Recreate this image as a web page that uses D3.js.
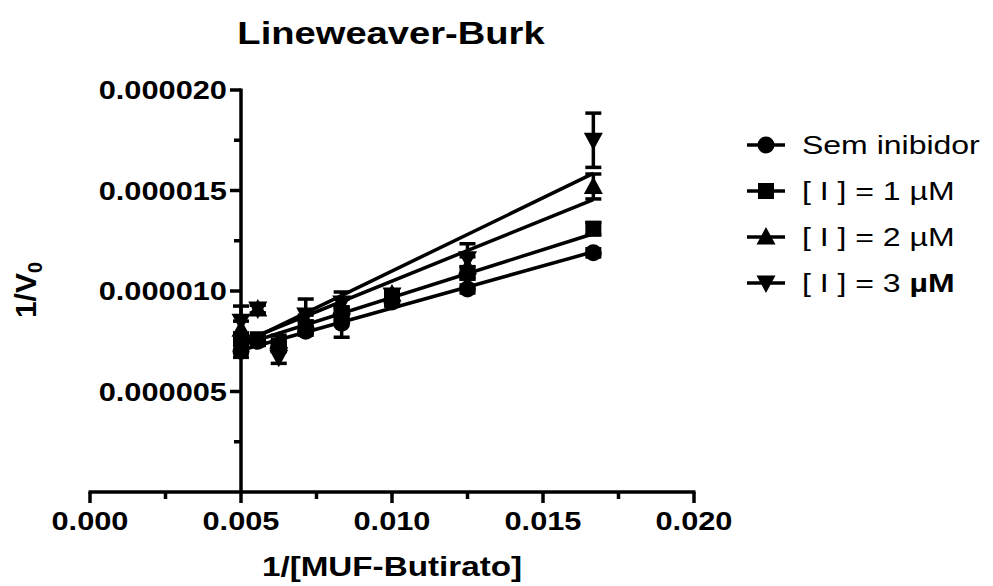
<!DOCTYPE html>
<html><head><meta charset="utf-8">
<script src="https://cdn.jsdelivr.net/npm/d3@7"></script>
<style>html,body{margin:0;padding:0;background:#fff;}svg{display:block;}</style>
</head><body>
<svg id="chart" width="993" height="586"></svg>
<script>
// ---- data ----
const xValues = [0.005, 0.005556, 0.00625, 0.007143, 0.008333, 0.01, 0.0125, 0.016667];
const seriesNames = ["Sem inibidor", "[ I ] = 1 µM", "[ I ] = 2 µM", "[ I ] = 3 µM"];
const semInibidor = [7.0e-6, 7.5e-6, 7.2e-6, 8.0e-6, 8.4e-6, 9.45e-6, 10.1e-6, 11.9e-6];
const semInibidorErr = [0.3e-6, 0.2e-6, 0.2e-6, 0.2e-6, 0.7e-6, 0.2e-6, 0.2e-6, 0.2e-6];
const inib1 = [7.6e-6, 7.6e-6, 7.3e-6, 8.2e-6, 8.9e-6, 9.7e-6, 10.9e-6, 13.1e-6];
const inib1Err = [0.3e-6, 0.2e-6, 0.2e-6, 0.3e-6, 0.3e-6, 0.3e-6, 0.3e-6, 0.3e-6];
const inib2 = [8.1e-6, 9.1e-6, 7.5e-6, 8.5e-6, 9.2e-6, 9.85e-6, 11.2e-6, 15.2e-6];
const inib2Err = [0.4e-6, 0.2e-6, 0.3e-6, 0.3e-6, 0.4e-6, 0.2e-6, 0.5e-6, 0.62e-6];
const inib3 = [8.5e-6, 9.1e-6, 6.7e-6, 8.8e-6, 9.4e-6, 9.8e-6, 11.6e-6, 17.5e-6];
const inib3Err = [0.75e-6, 0.2e-6, 0.3e-6, 0.8e-6, 0.55e-6, 0.2e-6, 0.75e-6, 1.35e-6];
// regression line values at first and last x
const fitStart = [7.05e-6, 7.3e-6, 7.45e-6, 7.35e-6];
const fitEnd = [11.95e-6, 12.85e-6, 14.55e-6, 15.85e-6];
const xTicks = [0, 0.005, 0.010, 0.015, 0.020];
const xMinorTicks = [0.0025, 0.0075, 0.0125, 0.0175];
const yTicks = [0.000005, 0.000010, 0.000015, 0.000020];
const yMinorTicks = [0.0000025, 0.0000075, 0.0000125, 0.0000175];
const markerTypes = ["circle", "square", "triangleUp", "triangleDown"];

const seriesVals = [semInibidor, inib1, inib2, inib3];
const seriesErrs = [semInibidorErr, inib1Err, inib2Err, inib3Err];

const STRETCH = 1.23;
const svg = d3.select("#chart");
const x = d3.scaleLinear().domain([0, 0.02]).range([90, 694]);
const y = d3.scaleLinear().domain([0, 0.00002]).range([492, 90]);
const FONT = "'Liberation Sans', Arial, sans-serif";

function stretch(sel) {
  sel.each(function() {
    const len = this.getComputedTextLength();
    d3.select(this).attr("textLength", len * STRETCH).attr("lengthAdjust", "spacingAndGlyphs");
  });
  return sel;
}

function markerPath(type) {
  if (type === "circle") return "M8.5,0A8.5,8.5 0 1,1 -8.5,0A8.5,8.5 0 1,1 8.5,0Z";
  if (type === "square") return "M-8,-8H8V8H-8Z";
  if (type === "triangleUp") return "M0,-10L9.5,7.5L-9.5,7.5Z";
  return "M0,10L9.5,-7.5L-9.5,-7.5Z";
}

// title
stretch(svg.append("text").attr("x", 391).attr("y", 44).attr("text-anchor", "middle")
  .attr("font-family", FONT).attr("font-weight", "bold").attr("font-size", 31)
  .text("Lineweaver-Burk"));

// axes
const ax = svg.append("g").attr("stroke", "#000").attr("stroke-width", 3.5).attr("fill", "none");
ax.append("line").attr("x1", x(0) - 1.5).attr("x2", x(0.02) + 1.5).attr("y1", y(0)).attr("y2", y(0));
ax.append("line").attr("x1", x(0.005)).attr("x2", x(0.005)).attr("y1", y(0.00002) - 1.5).attr("y2", y(0));
xTicks.forEach(t => ax.append("line").attr("x1", x(t)).attr("x2", x(t)).attr("y1", y(0)).attr("y2", y(0) + 11));
xMinorTicks.forEach(t => ax.append("line").attr("x1", x(t)).attr("x2", x(t)).attr("y1", y(0)).attr("y2", y(0) + 7));
yTicks.forEach(t => ax.append("line").attr("y1", y(t)).attr("y2", y(t)).attr("x1", x(0.005)).attr("x2", x(0.005) - 11));
yMinorTicks.forEach(t => ax.append("line").attr("y1", y(t)).attr("y2", y(t)).attr("x1", x(0.005)).attr("x2", x(0.005) - 7));

const xFmt = d3.format(".3f"), yFmt = d3.format(".6f");
xTicks.forEach(t => stretch(svg.append("text").attr("x", x(t)).attr("y", y(0) + 38)
  .attr("text-anchor", "middle").attr("font-family", FONT).attr("font-weight", "bold")
  .attr("font-size", 25).text(xFmt(t))));
yTicks.forEach(t => stretch(svg.append("text").attr("x", x(0.005) - 14).attr("y", y(t) + 9)
  .attr("text-anchor", "end").attr("font-family", FONT).attr("font-weight", "bold")
  .attr("font-size", 25).text(yFmt(t))));

stretch(svg.append("text").attr("x", 392).attr("y", 576).attr("text-anchor", "middle")
  .attr("font-family", FONT).attr("font-weight", "bold").attr("font-size", 27)
  .text("1/[MUF-Butirato]"));

const yl = svg.append("text").attr("transform", "translate(36,290) rotate(-90)")
  .attr("text-anchor", "middle").attr("font-family", FONT).attr("font-weight", "bold").attr("font-size", 30);
yl.append("tspan").text("1/V");
yl.append("tspan").attr("font-size", 20).attr("dy", 6).text("0");

// fit lines
const plot = svg.append("g");
seriesVals.forEach((vals, i) => {
  plot.append("line").attr("x1", x(xValues[0])).attr("x2", x(xValues[xValues.length - 1]))
    .attr("y1", y(fitStart[i])).attr("y2", y(fitEnd[i]))
    .attr("stroke", "#000").attr("stroke-width", 3.5);
});
// error bars
seriesVals.forEach((vals, i) => {
  vals.forEach((v, j) => {
    const e = seriesErrs[i][j];
    const cx = x(xValues[j]);
    const g = plot.append("g").attr("stroke", "#000").attr("stroke-width", 3.5);
    g.append("line").attr("x1", cx).attr("x2", cx).attr("y1", y(v - e)).attr("y2", y(v + e));
    g.append("line").attr("x1", cx - 8).attr("x2", cx + 8).attr("y1", y(v + e)).attr("y2", y(v + e));
    g.append("line").attr("x1", cx - 8).attr("x2", cx + 8).attr("y1", y(v - e)).attr("y2", y(v - e));
  });
});
// markers
seriesVals.forEach((vals, i) => {
  plot.selectAll(null).data(vals).enter().append("path")
    .attr("transform", (v, j) => `translate(${x(xValues[j])},${y(v)})`)
    .attr("d", markerPath(markerTypes[i])).attr("fill", "#000");
});

// legend
const legY = [145, 191, 237, 283];
seriesNames.forEach((name, i) => {
  const g = svg.append("g").attr("transform", `translate(0,${legY[i]})`);
  g.append("line").attr("x1", 747).attr("x2", 785).attr("y1", 0).attr("y2", 0)
    .attr("stroke", "#000").attr("stroke-width", 3.5);
  g.append("path").attr("transform", "translate(766,0)").attr("d", markerPath(markerTypes[i])).attr("fill", "#000");
  const t = g.append("text").attr("x", 802).attr("y", 9).attr("font-family", FONT).attr("font-size", 26);
  if (i === 3) {
    t.append("tspan").text("[ I ] = 3 ");
    t.append("tspan").attr("font-weight", "bold").text("µM");
  } else {
    t.text(name);
  }
  stretch(t);
});
</script>
</body></html>
